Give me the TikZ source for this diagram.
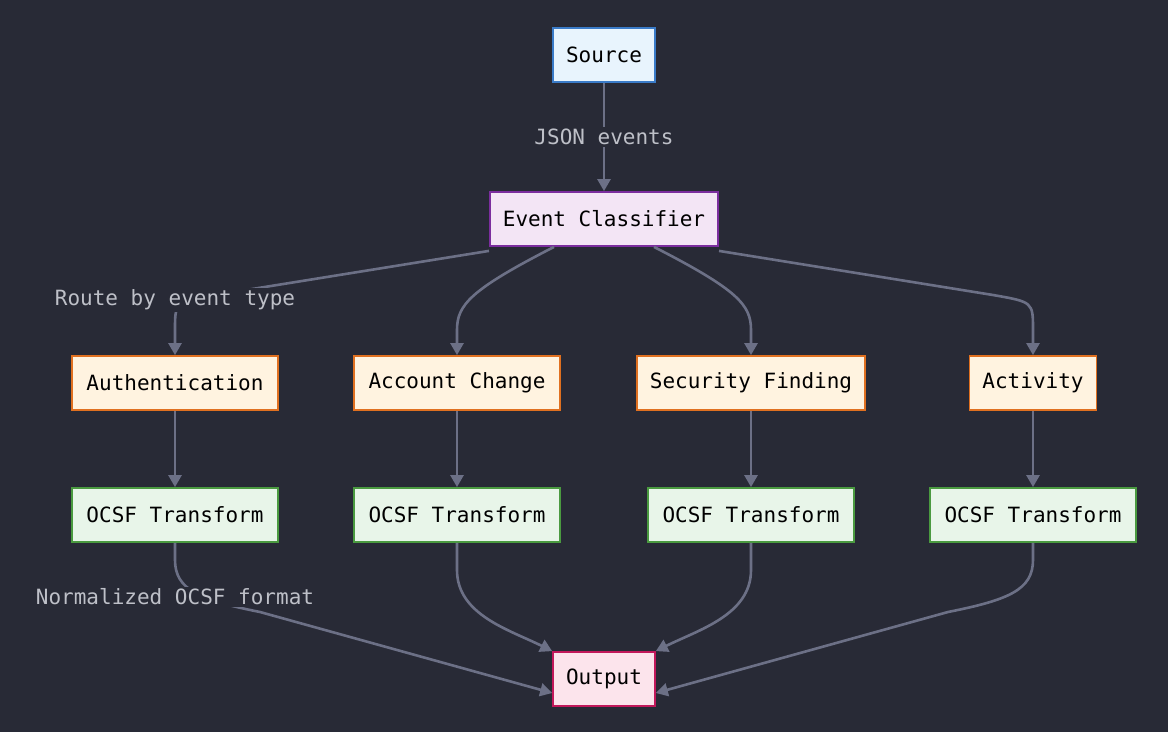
\documentclass[tikz,border=0pt]{standalone}
\usepackage{fontspec}
\setmonofont{DejaVu Sans Mono}
\usetikzlibrary{arrows.meta,positioning}
\definecolor{bgcol}{RGB}{40,42,54}
\definecolor{edgecol}{RGB}{108,112,134}
\definecolor{labcol}{RGB}{190,192,200}
\tikzset{
    % arrow tip
    >={Triangle[length=12pt,width=13pt]},
    % boxes
    box/.style={
             rectangle, draw, line width=1.8pt,
             minimum height=54pt, inner xsep=13pt,
             font=\fontsize{21}{25}\selectfont\ttfamily, text=black},
    srcnode/.style={box, fill={rgb,255:red,232;green,244;blue,253}, draw={rgb,255:red,58;green,123;blue,200}},
    clsnode/.style={box, fill={rgb,255:red,243;green,229;blue,245}, draw={rgb,255:red,123;green,45;blue,158}},
    catnode/.style={box, fill={rgb,255:red,255;green,243;blue,224}, draw={rgb,255:red,224;green,112;blue,32}},
    ocsfnode/.style={box, fill={rgb,255:red,232;green,245;blue,233}, draw={rgb,255:red,74;green,154;blue,64}, minimum width=206pt},
    outnode/.style={box, fill={rgb,255:red,252;green,228;blue,236}, draw={rgb,255:red,194;green,24;blue,91}},
    % connectors
    flow/.style={->, draw=edgecol, line width=2.6pt},
    lab/.style={fill=bgcol, text=labcol, inner sep=2pt,
             font=\fontsize{21}{25}\selectfont\ttfamily}
}
\begin{document}
\begin{tikzpicture}[x=1pt, y=-1pt]
 \fill[bgcol] (0,0) rectangle (1168,732);
 \useasboundingbox (0,0) rectangle (1168,732);
 \node[srcnode] (src) at (604,55) {Source};
 \node[clsnode] (cls) at (604,219) {Event Classifier};
 \node[catnode, minimum width=206pt] (auth) at (175,383) {Authentication};
 \node[catnode, minimum width=206pt] (acc) at (457,383) {Account Change};
 \node[catnode] (sec) at (751,383) {Security Finding};
 \node[catnode] (act) at (1033,383) {Activity};
 \node[ocsfnode] (t1) at (175,515) {OCSF Transform};
 \node[ocsfnode] (t2) at (457,515) {OCSF Transform};
 \node[ocsfnode] (t3) at (751,515) {OCSF Transform};
 \node[ocsfnode] (t4) at (1033,515) {OCSF Transform};
 \node[outnode] (out) at (604,679) {Output};
 % top
 \draw[flow] (src) -- node[lab] {JSON events} (cls);
 \draw[flow] ([yshift=-4pt]cls.south west) -- (215,295) .. controls (175,302) .. (175,330) -- (auth.north);
 \node[lab] at (175,300) {Route by event type};
 \draw[flow] ([xshift=-50pt]cls.south) .. controls (470,290) and (457,305) .. (457,330) -- (acc.north);
 \draw[flow] ([xshift=50pt]cls.south) .. controls (738,290) and (751,305) .. (751,330) -- (sec.north);
 \draw[flow] ([yshift=-4pt]cls.south east) -- (993,295) .. controls (1033,302) .. (1033,330) -- (act.north);
 % middle
 \foreach \c/\t in {auth/t1, acc/t2, sec/t3, act/t4}
   \draw[flow] (\c) -- (\t);
 % bottom
 \draw[flow] (t1.south) -- (175,560) .. controls (175,590) and (200,600) .. (260,612) -- ([yshift=-14pt]out.west);
 \node[lab] at (175,597) {Normalized OCSF format};
 \draw[flow] (t2.south) -- (457,570) .. controls (457,615) and (510,630) .. (out.north west);
 \draw[flow] (t3.south) -- (751,570) .. controls (751,615) and (698,630) .. (out.north east);
 \draw[flow] (t4.south) -- (1033,560) .. controls (1033,590) and (1008,600) .. (948,612) -- ([yshift=-14pt]out.east);
\end{tikzpicture}
\end{document}
